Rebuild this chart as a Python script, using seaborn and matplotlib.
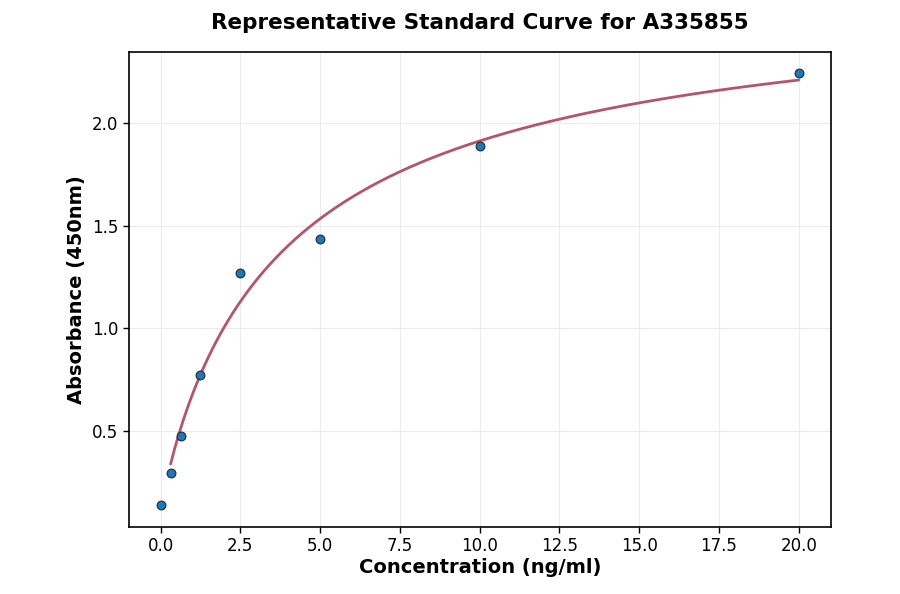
import numpy as np
import pandas as pd
import matplotlib
matplotlib.use("Agg")
import matplotlib.pyplot as plt
import seaborn as sns

# ---------------------------------------------
# Standard curve data
# ---------------------------------------------
concentration = [0.0, 0.3125, 0.625, 1.25, 2.5, 5.0, 10.0, 20.0]
absorbance = [0.135, 0.295, 0.475, 0.77, 1.27, 1.435, 1.89, 2.245]

TITLE = "Representative Standard Curve for A335855"
XLABEL = "Concentration (ng/ml)"
YLABEL = "Absorbance (450nm)"


def four_pl(x, p):
    a, b, c, d = p
    return d + (a - d) / (1.0 + (np.maximum(x, 1e-12) / c) ** b)


def fit_four_pl(x, y, p0, n_iter=500):
    # small damped Gauss-Newton, no scipy needed
    p = np.array(p0, dtype=float)
    lam = 1e-2
    for _ in range(n_iter):
        r = y - four_pl(x, p)
        J = np.zeros((len(x), len(p)))
        for k in range(len(p)):
            dp = np.zeros_like(p)
            dp[k] = 1e-6 * max(abs(p[k]), 1.0)
            J[:, k] = (four_pl(x, p + dp) - four_pl(x, p)) / dp[k]
        A = J.T @ J
        step = np.linalg.solve(A + lam * np.diag(np.diag(A)), J.T @ r)
        p_new = p + step
        if p_new[2] <= 0 or p_new[1] <= 0:
            lam *= 10
            continue
        if np.sum((y - four_pl(x, p_new)) ** 2) < np.sum(r ** 2):
            p = p_new
            lam = max(lam / 10, 1e-9)
        else:
            lam *= 10
    return p


df = pd.DataFrame({"conc": concentration, "od": absorbance})
x = df["conc"].to_numpy()
y = df["od"].to_numpy()
params = fit_four_pl(x, y, [0.1, 1.0, 3.0, 2.6])

x_fit = np.linspace(x[x > 0].min(), x.max(), 300)
curve = pd.DataFrame({"conc": x_fit, "od": four_pl(x_fit, params)})

# ---------------------------------------------
# Plot
# ---------------------------------------------
sns.set_theme(style="whitegrid")
plt.rcParams["font.family"] = ["DejaVu Sans"]
plt.rcParams["text.color"] = "black"
plt.rcParams["axes.labelcolor"] = "black"
plt.rcParams["xtick.color"] = "black"
plt.rcParams["ytick.color"] = "black"

fig, ax = plt.subplots(figsize=(9, 5.94), dpi=100)
sns.lineplot(data=curve, x="conc", y="od", color="#b5546a", linewidth=2, ax=ax)
sns.scatterplot(data=df, x="conc", y="od", color="#1f77b4", edgecolor="#1a2a3a",
                linewidth=0.8, s=40, zorder=3, ax=ax)

ax.set_title(TITLE, fontsize=15.5, fontweight="bold", pad=16, color="black")
ax.set_xlabel(XLABEL, fontsize=14, fontweight="bold", labelpad=2)
ax.set_ylabel(YLABEL, fontsize=14, fontweight="bold")
ax.set_xticks(np.arange(0, 20.1, 2.5))
ax.set_yticks([0.5, 1.0, 1.5, 2.0])
ax.tick_params(axis="both", labelsize=12, length=4, width=1, color="black",
               labelcolor="black", bottom=True, left=True, direction="out")
ax.grid(True, color="#ebebeb", linewidth=0.8)
ax.set_facecolor("white")
for sp in ax.spines.values():
    sp.set_color("black")
    sp.set_linewidth(1.2)

fig.subplots_adjust(left=0.143, right=0.923, top=0.913, bottom=0.113)
fig.savefig("out.png", dpi=100, facecolor="white")
